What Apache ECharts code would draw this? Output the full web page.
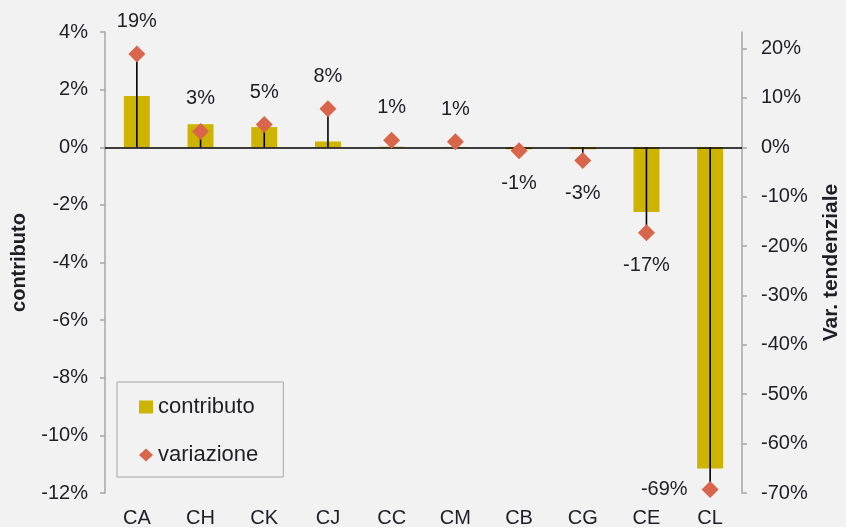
<!DOCTYPE html>
<html>
<head>
<meta charset="utf-8">
<script src="https://cdn.jsdelivr.net/npm/echarts@6/dist/echarts.min.js"></script>
<style>
html,body{margin:0;padding:0;background:#F2F2F2;}
#chart{width:846px;height:527px;}
</style>
</head>
<body>
<div id="chart"></div>
<script>
const categories = ['CA','CH','CK','CJ','CC','CM','CB','CG','CE','CL'];
const contributo = [1.78, 0.80, 0.70, 0.20, 0.02, 0.01, -0.07, -0.07, -2.25, -11.15];
const variazione = [18.9, 3.2, 4.6, 7.8, 1.4, 1.1, -0.7, -2.7, -17.3, -69.3];
const leftTicks = [-12, -10, -8, -6, -4, -2, 0, 2, 4];
const rightTicks = [-70, -60, -50, -40, -30, -20, -10, 0, 10, 20];

const FONT = 'Liberation Sans, Arial, sans-serif';
const TXT = '#1E1E24';

const chart = echarts.init(document.getElementById('chart'), null, {renderer:'canvas'});

const varItems = variazione.map(v => ({
  value: v,
  label: {position: v >= 0 ? 'top' : (v < -60 ? 'left' : 'bottom')}
}));

const option = {
  backgroundColor: '#F2F2F2',
  animation: false,
  textStyle: {fontFamily: FONT, color: TXT},
  grid: {left: 105, right: 104, top: 32, bottom: 34, containLabel: false, outerBoundsMode: 'none'},
  legend: {
    orient: 'vertical',
    left: 117, top: 382,
    padding: [14, 25, 11, 22],
    itemGap: 26,
    itemWidth: 14, itemHeight: 13,
    borderColor: '#A6A6A6', borderWidth: 1,
    textStyle: {fontFamily: FONT, fontSize: 22, color: TXT},
    data: [
      {name: 'contributo', icon: 'rect'},
      {name: 'variazione', icon: 'diamond'}
    ]
  },
  xAxis: {
    type: 'category',
    data: categories,
    position: 'bottom',
    axisLine: {show: false, onZero: false},
    axisTick: {show: false},
    axisLabel: {fontFamily: FONT, fontSize: 20, color: TXT, margin: 15}
  },
  yAxis: [
    {
      type: 'value',
      min: leftTicks[0], max: leftTicks[leftTicks.length-1], interval: 2,
      name: 'contributo',
      nameLocation: 'middle', nameRotate: 90, nameGap: 76,
      nameTextStyle: {fontFamily: FONT, fontSize: 20, fontWeight: 'bold', color: TXT},
      axisLine: {show: true, lineStyle: {color: '#A6A6A6', width: 1.5}},
      axisTick: {show: true, length: 5, lineStyle: {color: '#A6A6A6', width: 1.5}},
      axisLabel: {fontFamily: FONT, fontSize: 20, color: TXT, margin: 17, formatter: v => v + '%'},
      splitLine: {show: false}
    },
    {
      type: 'value',
      min: rightTicks[0], max: -rightTicks[0] * 4 / 12,
      position: 'right',
      name: 'Var. tendenziale',
      nameLocation: 'middle', nameRotate: 90, nameGap: 79,
      nameTextStyle: {fontFamily: FONT, fontSize: 21, fontWeight: 'bold', color: TXT},
      axisLine: {show: true, lineStyle: {color: '#A6A6A6', width: 1.5}},
      axisTick: {show: true, length: 5, customValues: rightTicks, lineStyle: {color: '#A6A6A6', width: 1.5}},
      axisLabel: {fontFamily: FONT, fontSize: 20, color: TXT, margin: 19, customValues: rightTicks, formatter: v => v + '%'},
      splitLine: {show: false}
    }
  ],
  series: [
    {
      name: 'contributo',
      type: 'bar',
      yAxisIndex: 0,
      data: contributo,
      barWidth: 26,
      itemStyle: {color: '#CCB400'},
      markLine: {
        silent: true,
        symbol: 'none',
        z: 10,
        label: {show: false},
        lineStyle: {color: '#000', width: 1.5, type: 'solid', opacity: 1},
        emphasis: {disabled: true},
        data: [{yAxis: 0}]
      }
    },
    {
      name: 'droplines',
      type: 'custom',
      yAxisIndex: 1,
      z: 5,
      silent: true,
      data: variazione.map((v, i) => [i, v]),
      encode: {x: 0, y: 1},
      renderItem: function (params, api) {
        const x = api.value(0), v = api.value(1);
        const p0 = api.coord([x, 0]);
        const p1 = api.coord([x, v]);
        return {
          type: 'line',
          shape: {x1: p0[0], y1: p0[1], x2: p1[0], y2: p1[1]},
          style: {stroke: '#000', lineWidth: 1.6}
        };
      }
    },
    {
      name: 'variazione',
      type: 'scatter',
      yAxisIndex: 1,
      z: 20,
      symbol: 'diamond',
      symbolSize: 17,
      itemStyle: {color: '#D9664A', opacity: 1},
      data: varItems,
      label: {
        show: true,
        distance: 14,
        fontFamily: FONT, fontSize: 20, color: TXT,
        formatter: p => Math.round(p.value) + '%'
      }
    }
  ]
};
chart.setOption(option);
</script>
</body>
</html>
